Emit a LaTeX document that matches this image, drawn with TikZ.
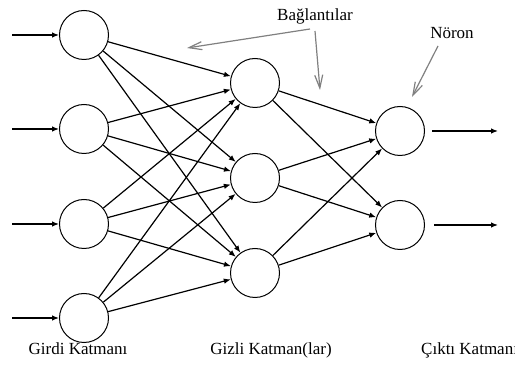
\documentclass[tikz,border=0pt]{standalone}
\usepackage{fontspec}
\setmainfont{Liberation Serif}
\usetikzlibrary{arrows.meta}

\tikzset{
  neuron/.style={draw, circle, line width=1pt, minimum size=49pt, inner sep=0pt},
  link/.style={line width=1.2pt, -{Latex[length=7pt,width=5.5pt]}},
  pointer/.style={draw=gray, line width=1.2pt, -{Straight Barb[length=13pt,width=8pt]}},
  caption/.style={font=\fontsize{17}{20}\selectfont, inner sep=0pt}
}

\begin{document}
\begin{tikzpicture}[x=1pt, y=-1pt]
		\useasboundingbox (0,0) rectangle (515,371);
		% Input layer
		\node[neuron] (i1) at (84,35) {};
		\node[neuron] (i2) at (84,129) {};
		\node[neuron] (i3) at (84,224) {};
		\node[neuron] (i4) at (84,318) {};
		% Hidden layer
		\node[neuron] (h1) at (255,83) {};
		\node[neuron] (h2) at (255,178) {};
		\node[neuron] (h3) at (255,273) {};
		% Output layer
		\node[neuron] (o1) at (400,131) {};
		\node[neuron] (o2) at (400,225) {};
		% Inputs
		\coordinate (in1) at (12,35);
		\coordinate (in2) at (12,129);
		\coordinate (in3) at (12,224);
		\coordinate (in4) at (12,318);
		\draw[link] (in1) -- (i1);
		\draw[link] (in2) -- (i2);
		\draw[link] (in3) -- (i3);
		\draw[link] (in4) -- (i4);
		% Input to hidden
		\draw[link] (i1) -- (h1);
		\draw[link] (i1) -- (h2);
		\draw[link] (i1) -- (h3);
		\draw[link] (i2) -- (h1);
		\draw[link] (i2) -- (h2);
		\draw[link] (i2) -- (h3);
		\draw[link] (i3) -- (h1);
		\draw[link] (i3) -- (h2);
		\draw[link] (i3) -- (h3);
		\draw[link] (i4) -- (h1);
		\draw[link] (i4) -- (h2);
		\draw[link] (i4) -- (h3);
		% Hidden to output
		\draw[link] (h1) -- (o1);
		\draw[link] (h1) -- (o2);
		\draw[link] (h2) -- (o1);
		\draw[link] (h2) -- (o2);
		\draw[link] (h3) -- (o1);
		\draw[link] (h3) -- (o2);
		% Outputs
		\coordinate (out1s) at (432,131);
		\coordinate (out1) at (498,131);
		\coordinate (out2s) at (434,225);
		\coordinate (out2) at (498,225);
		\draw[link] (out1s) -- (out1);
		\draw[link] (out2s) -- (out2);
		% Labels
		\node[caption, anchor=base] (links) at (315,21) {Bağlantılar};
		\node[caption, anchor=base] (neu) at (452,39) {Nöron};
		\coordinate (l1s) at (310,29);
		\coordinate (l1) at (187,48);
		\coordinate (l2s) at (315,31);
		\coordinate (l2) at (320,90);
		\coordinate (n1s) at (438,46);
		\coordinate (n1) at (412,97);
		\draw[pointer] (l1s) -- (l1);
		\draw[pointer] (l2s) -- (l2);
		\draw[pointer] (n1s) -- (n1);
		\node[caption, anchor=base] (inlab) at (78,355) {Girdi Katmanı};
		\node[caption, anchor=base] (hidlab) at (271,355) {Gizli Katman(lar)};
		\node[caption, anchor=base west] (outlab) at (421,355) {Çıktı Katmanı};
	\end{tikzpicture}
\end{document}
